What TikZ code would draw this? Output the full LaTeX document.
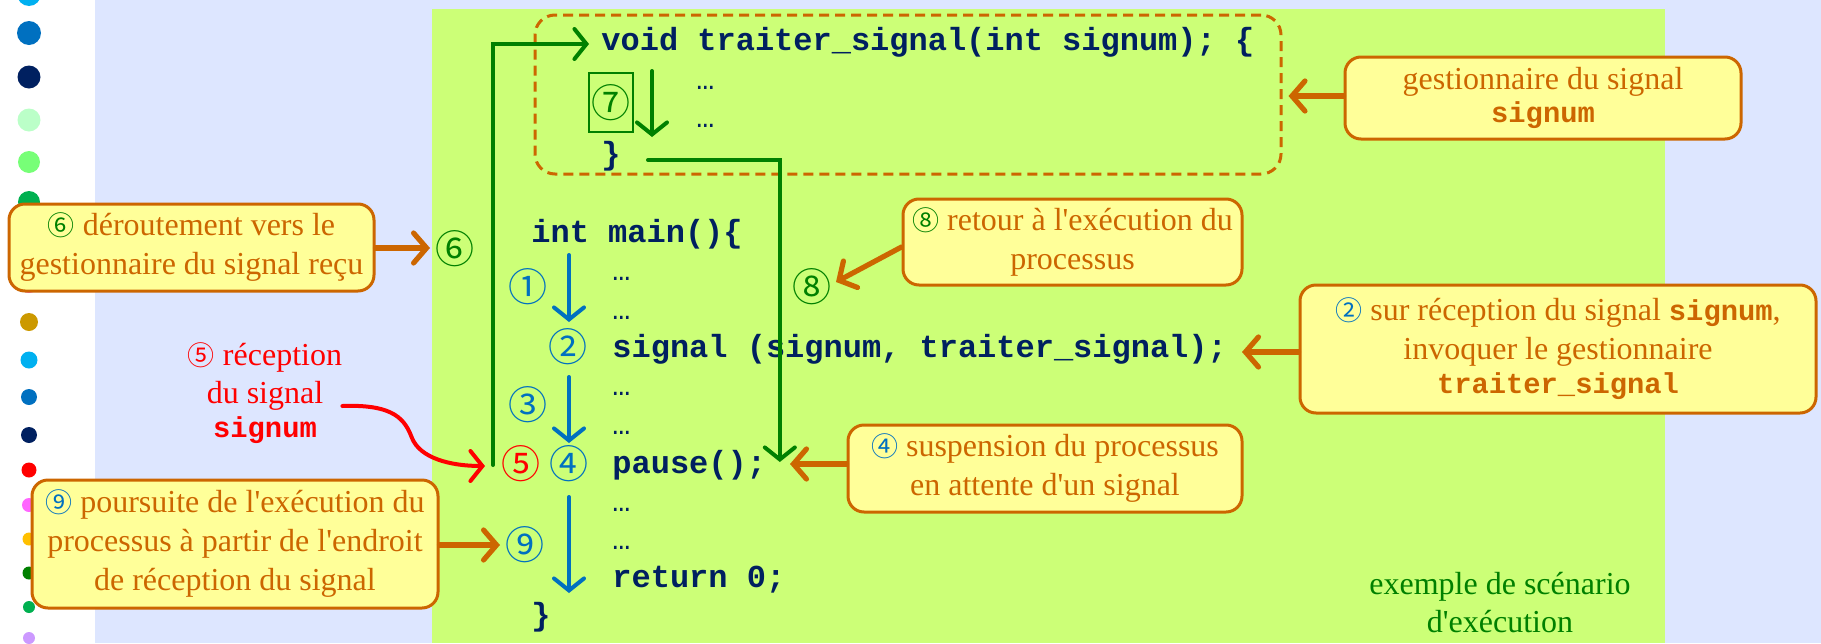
\documentclass[tikz,border=0pt]{standalone}
\usepackage{fontspec}
\setmainfont{Liberation Serif}[Ligatures=TeXOff]
\setmonofont{Liberation Mono}
\newfontfamily\cjk{Noto Sans CJK JP}
\usetikzlibrary{arrows.meta}

\definecolor{pagebg}{RGB}{221,230,255}
\definecolor{panel}{RGB}{204,255,119}
\definecolor{codeblue}{RGB}{0,32,96}
\definecolor{stepblue}{RGB}{0,112,192}
\definecolor{flowgreen}{RGB}{0,128,0}
\definecolor{noteorange}{RGB}{204,102,0}
\definecolor{notefill}{RGB}{255,255,153}
\definecolor{sigred}{RGB}{255,0,0}

% circled step numbers
\newcommand\ic[2]{{\color{#1}\fontsize{13.5}{16}\selectfont\cjk #2}}
% inline identifiers
\newcommand\mono[1]{{\fontsize{14.4}{16}\selectfont\ttfamily\bfseries #1}}

\tikzset{
  code/.style={anchor=base west, inner sep=0pt, text=codeblue,
    font=\fontsize{16}{19}\selectfont\ttfamily\bfseries},
  elided/.style={code, font=\fontsize{15}{19}\selectfont\ttfamily},
  num/.style={inner sep=0pt, font=\fontsize{19.5}{20}\selectfont\cjk},
  note/.style={draw=noteorange, fill=notefill, line width=1.5pt,
    rounded corners=8pt, text=noteorange, align=center, inner sep=0pt,
    font=\fontsize{16}{19.5}\selectfont},
  notearrow/.style={draw=noteorange, line width=2.6pt, line cap=round,
    -{Straight Barb[length=6.5pt,width=15pt,line cap=round]}},
  flow/.style={line width=2pt, line cap=round,
    -{Straight Barb[length=6pt,width=15pt,line cap=round]}},
  handlerframe/.style={draw=noteorange, line width=1.5pt,
    dash pattern=on 5pt off 3pt, rounded corners=10pt, inner sep=0pt},
}

\begin{document}
\begin{tikzpicture}[x=0.5pt,y=-0.5pt]
\useasboundingbox (0,0) rectangle (1821,643);

% page background and scenario panel
\fill[white] (0,0) rectangle (95,643);
\fill[pagebg] (95,0) rectangle (1821,643);
\fill[panel] (432,9) rectangle (1665,643);

% bullet column on the left
\foreach \yy/\rr/\cc in {-6/12/{0,176,240}, 33/12/{0,112,192}, 77/11.5/{0,32,96},
    120/11.5/{187,255,200}, 162/11/{119,255,119}, 202/11/{0,176,80},
    283/10/{255,102,255}, 322/9/{204,153,0}, 360/8.5/{0,176,240},
    397/8/{0,112,192}, 435/8/{0,32,96}, 470/7.5/{255,0,0},
    505/7/{255,102,255}, 539/6.5/{255,192,0}, 573/6.5/{0,128,0},
    607/6/{0,176,80}, 638/6/{204,153,255}} {
  \definecolor{dotc}{RGB}{\cc}
  \fill[dotc] (29,\yy) circle[radius=\rr];
}

% signal handler
\node[handlerframe, minimum width=373pt, minimum height=79.5pt] (hframe) at (908,94.5) {};
\node[code] (vd) at (601,50) {void traiter\_signal(int signum); \{};
\node[elided] (hd1) at (696,89) {…};
\node[elided] (hd2) at (696,127) {…};
\node[code] (hb) at (601,164) {\}};
\node[num, text=flowgreen, draw=flowgreen, line width=0.8pt,
      minimum width=22pt, minimum height=29.5pt] (n7) at (611,102.5) {⑦};

% main program
\node[code] (mn) at (531,242) {int main()\{};
\node[elided] (d1) at (612,280) {…};
\node[elided] (d2) at (612,319) {…};
\node[code] (sig) at (612,357) {signal (signum, traiter\_signal);};
\node[elided] (d3) at (612,395) {…};
\node[elided] (d4) at (612,434) {…};
\node[code] (pz) at (612,473) {pause();};
\node[elided] (d5) at (612,511) {…};
\node[elided] (d6) at (612,549) {…};
\node[code] (rt) at (612,587) {return 0;};
\node[code] (mb) at (531,625) {\}};

% step numbers
\node[num, text=flowgreen] (n6) at (455,249) {⑥};
\node[num, text=stepblue] (n1) at (528,287) {①};
\node[num, text=stepblue] (n2) at (568,347) {②};
\node[num, text=stepblue] (n3) at (528,405) {③};
\node[num, text=sigred] (n5) at (521,464) {⑤};
\node[num, text=stepblue] (n4) at (569,464) {④};
\node[num, text=stepblue] (n9) at (525,545) {⑨};
\node[num, text=flowgreen] (n8) at (812,287) {⑧};

% execution flow arrows
\coordinate (a7s) at (652,71);  \coordinate (a7e) at (652,137);
\coordinate (a1s) at (569,255); \coordinate (a1e) at (569,322);
\coordinate (a2s) at (569,377); \coordinate (a2e) at (569,443);
\coordinate (a3s) at (569,497); \coordinate (a3e) at (569,593);
\coordinate (recv) at (493,465);
\draw[flow, flowgreen] (a7s) -- (a7e);
\draw[flow, stepblue] (a1s) -- (a1e);
\draw[flow, stepblue] (a2s) -- (a2e);
\draw[flow, stepblue] (a3s) -- (a3e);
\draw[flow, flowgreen] (recv) |- ([xshift=-6pt,yshift=3pt]vd.base west);
\draw[flow, flowgreen] ([xshift=13.5pt,yshift=2pt]hb.base east) -| ([xshift=6.7pt,yshift=5.5pt]pz.base east);

% signal arrival
\node[text=sigred, align=center, inner sep=0pt, font=\fontsize{16}{19}\selectfont] (lbl5) at (265,393)
  {\ic{sigred}{⑤} réception\\du signal\\[-2pt]\mono{signum}};
\coordinate (t5) at (485,466);
\draw[flow, sigred] ([yshift=-6.5pt]lbl5.east) .. controls (395,404) and (405,420) .. (412,438)
  .. controls (420,458) and (450,466) .. (t5);

% explanatory notes
\node[note, minimum width=198pt, minimum height=41pt] (cg) at (1543,98)
  {gestionnaire du signal\\[-3pt]\mono{signum}};
\node[note, minimum width=182.5pt, minimum height=43.5pt] (c6) at (191.5,247.5)
  {\ic{flowgreen}{⑥} déroutement vers le\\gestionnaire du signal reçu};
\node[note, minimum width=169.5pt, minimum height=43pt] (c8) at (1072.5,242)
  {\ic{flowgreen}{⑧} retour à l'exécution du\\processus};
\node[note, minimum width=258pt, minimum height=64pt] (c2) at (1558,349)
  {\ic{stepblue}{②} sur réception du signal \mono{signum},\\invoquer le gestionnaire\\[-2.5pt]\mono{traiter\_signal}};
\node[note, minimum width=197pt, minimum height=43.5pt] (c4) at (1045,468.5)
  {\ic{stepblue}{④} suspension du processus\\en attente d'un signal};
\node[note, minimum width=203pt, minimum height=64pt] (c9) at (235,544)
  {\ic{stepblue}{⑨} poursuite de l'exécution du\\processus à partir de l'endroit\\de réception du signal};

\coordinate (t6) at (430,248);
\coordinate (t8) at (836,282);
\coordinate (t2) at (1242,352);
\coordinate (t4) at (790,464);
\coordinate (t9) at (500,545);
\draw[notearrow] (cg.west |- 0,96) -- ([xshift=3pt,yshift=-0.75pt]hframe.east);
\draw[notearrow] (c6.east |- t6) -- (t6);
\draw[notearrow] ([yshift=-2.5pt]c8.west) -- (t8);
\draw[notearrow] (c2.west |- t2) -- (t2);
\draw[notearrow] (c4.west |- t4) -- (t4);
\draw[notearrow] (c9.east |- t9) -- (t9);

% caption of the panel
\node[text=flowgreen, align=center, inner sep=0pt, font=\fontsize{16}{19}\selectfont] (cap) at (1500,603)
  {exemple de scénario\\d'exécution};
\end{tikzpicture}
\end{document}
